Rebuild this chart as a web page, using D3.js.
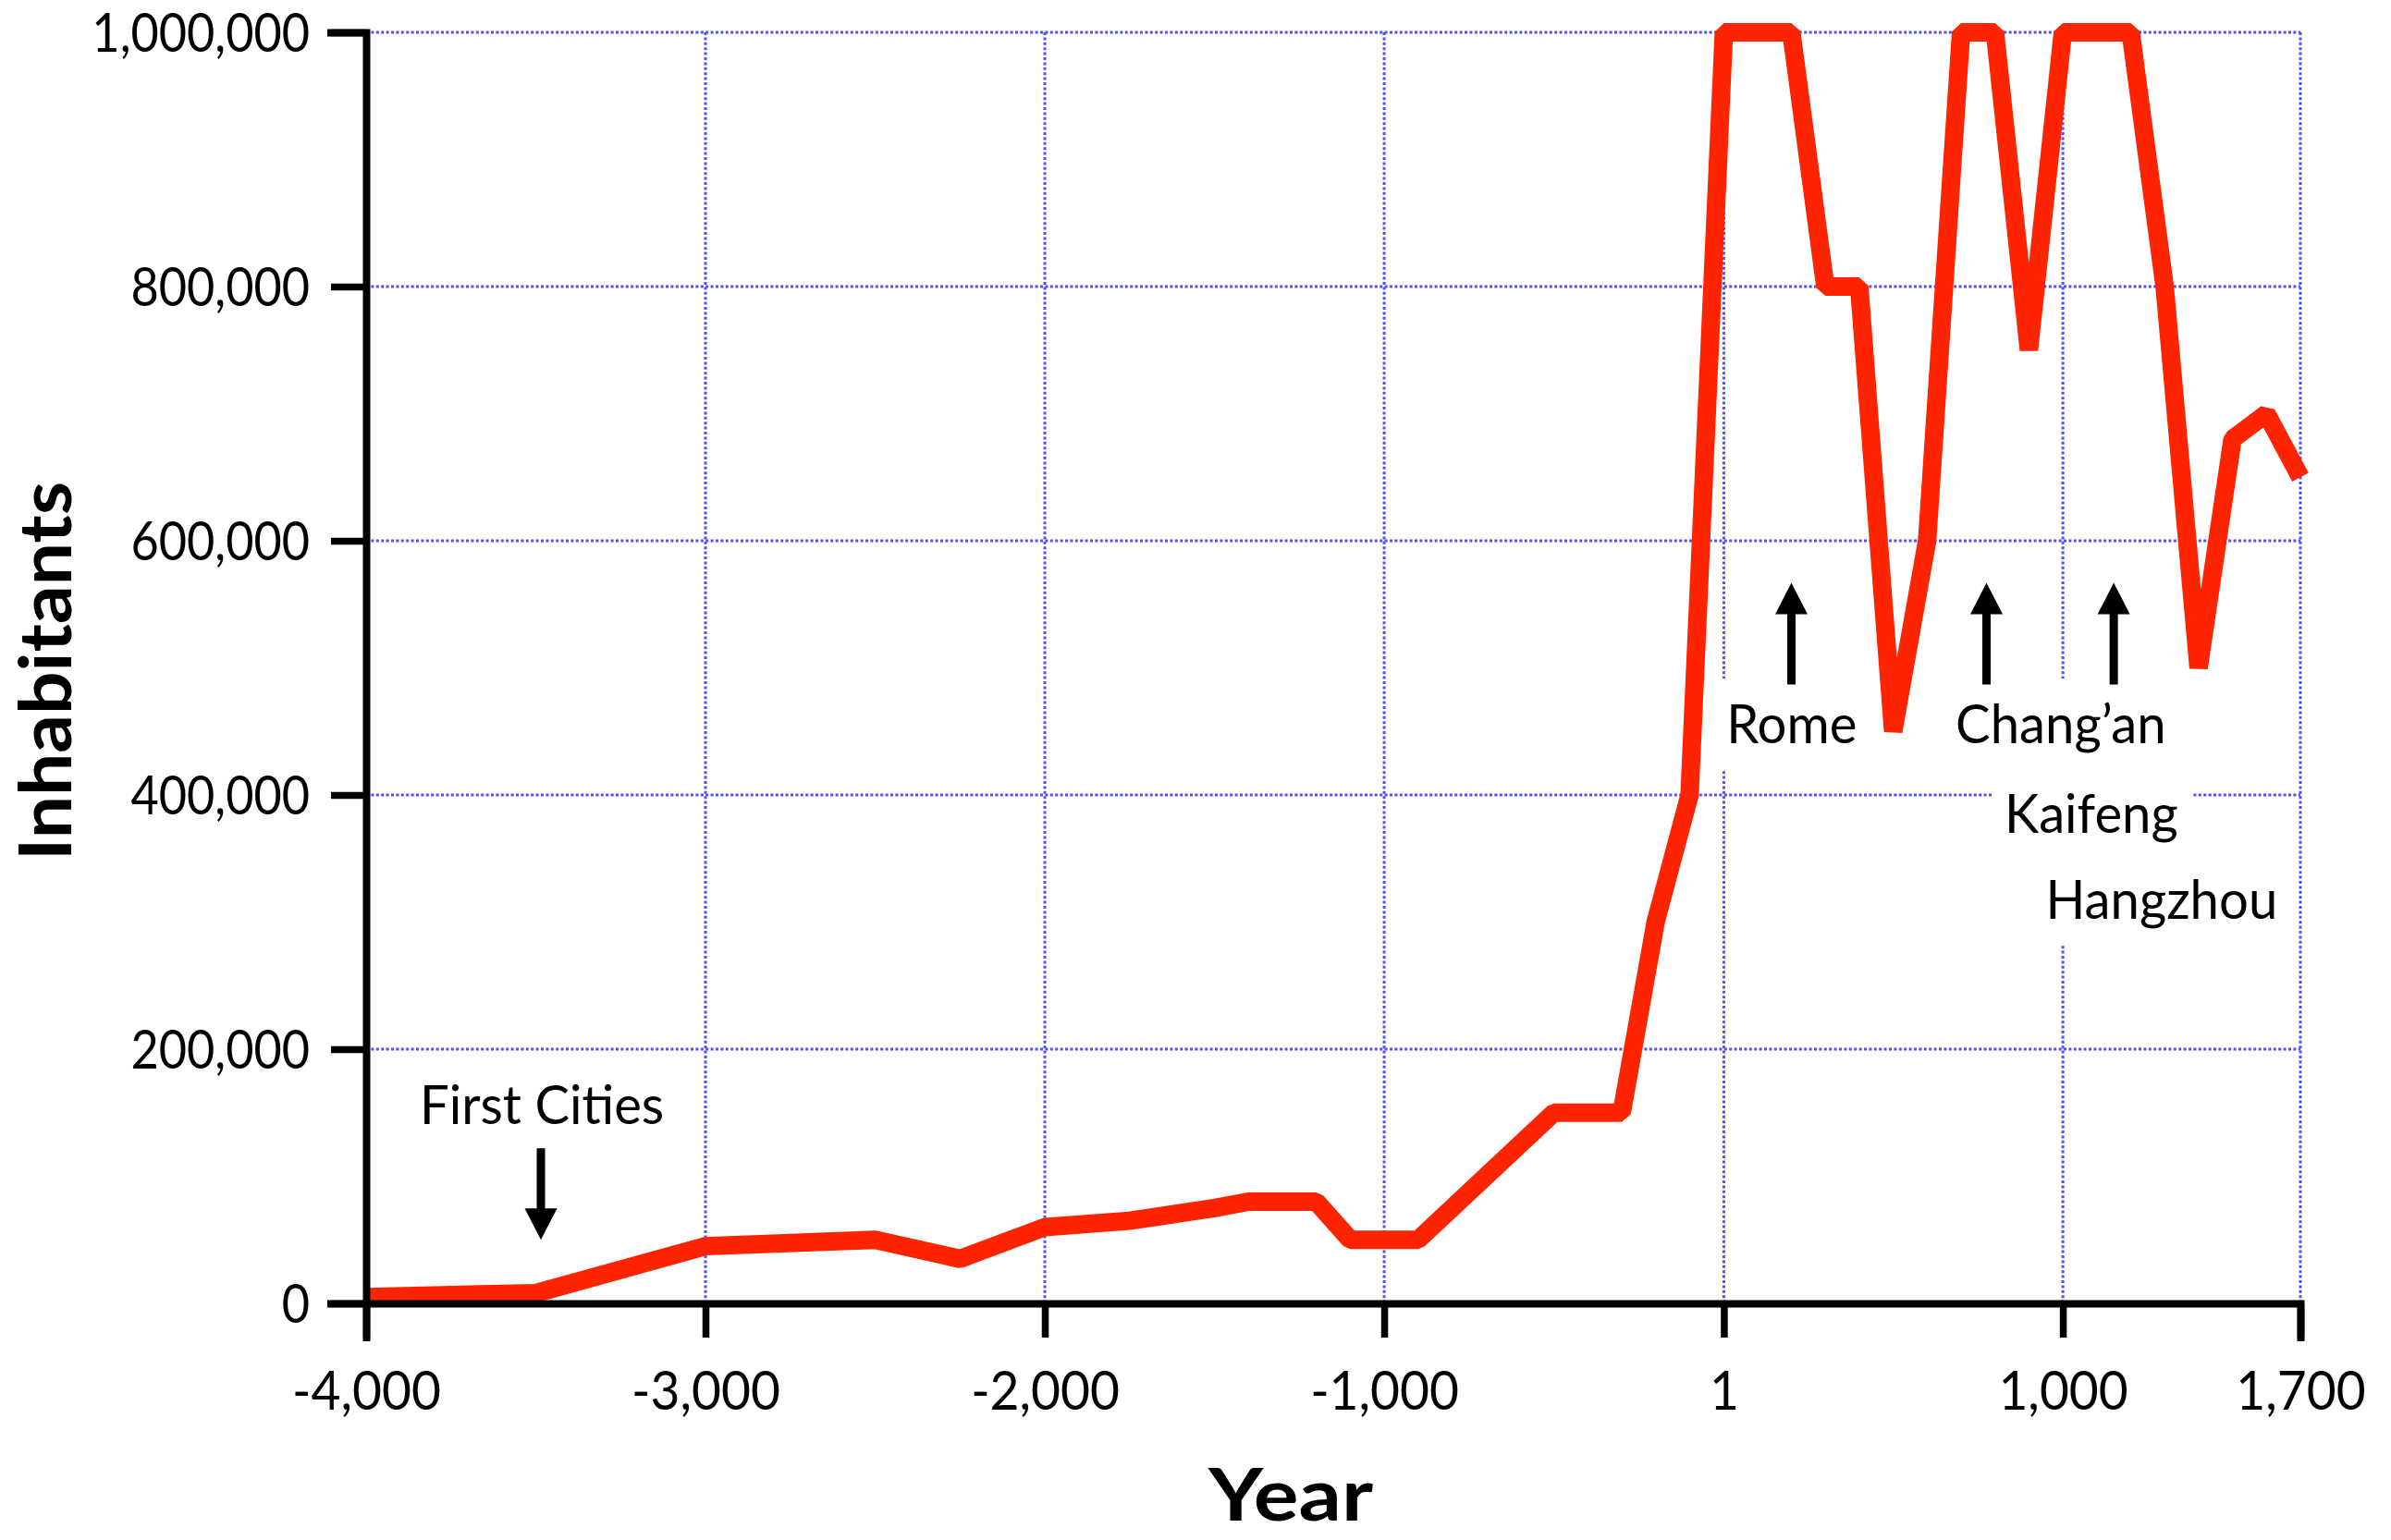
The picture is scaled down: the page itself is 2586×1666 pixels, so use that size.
<!DOCTYPE html>
<html>
<head>
<meta charset="utf-8">
<script src="https://cdn.jsdelivr.net/npm/d3@7"></script>
<style>
  html, body { margin: 0; padding: 0; background: #ffffff; }
  svg { display: block; }
  text { font-family: "Lato", "Open Sans", "DejaVu Sans", sans-serif; }
</style>
</head>
<body>
<svg id="chart" width="2586" height="1666"></svg>
<script>
// ---- data ----
const years = [-4000, -3500, -3000, -2500, -2250, -2000, -1750, -1500, -1400, -1200, -1100, -900,
  -500, -300, -200, -100, 1, 200, 300, 400, 500, 600, 700, 800, 900, 1000, 1200, 1300, 1400, 1500, 1600, 1700];
const inhabitants = [5000, 8000, 45000, 50000, 35000, 60000, 65000, 75000, 80000, 80000, 50000, 50000,
  150000, 150000, 300000, 400000, 1000000, 1000000, 800000, 800000, 450000, 600000, 1000000, 1000000,
  750000, 1000000, 1000000, 800000, 500000, 680000, 700000, 650000];

const xTickValues = [-4000, -3000, -2000, -1000, 1, 1000, 1700];
const xTickLabels = ["-4,000", "-3,000", "-2,000", "-1,000", "1", "1,000", "1,700"];
const yTickValues = [0, 200000, 400000, 600000, 800000, 1000000];
const yTickLabels = ["0", "200,000", "400,000", "600,000", "800,000", "1,000,000"];

const labelTexts  = ["First Cities", "Rome", "Chang\u2019an", "Kaifeng", "Hangzhou"];
const labelYears  = [-3482, 201, 994, 1084, 1291];
const labelValues = [141000, 440700, 440700, 370400, 302300];

const arrowYears = [-3485, 200, 775, 1150];
const arrowFrom  = [122000, 487000, 487000, 487000];
const arrowTo    = [50000, 567000, 567000, 567000];

// ---- layout ----
const svg = d3.select("#chart");
const x = d3.scaleLinear().domain([-4000, 1700]).range([396, 2488]);
const y = d3.scaleLinear().domain([0, 1000000]).range([1410, 35]);

// gridlines
const grid = svg.append("g").attr("class", "grid")
  .attr("stroke", "#4f4fff").attr("stroke-width", 3).attr("stroke-dasharray", "3,2.4");
grid.selectAll("line.h").data(yTickValues.filter(v => v > 0)).join("line")
  .attr("class", "h")
  .attr("x1", x(-4000)).attr("x2", x(1700))
  .attr("y1", d => y(d)).attr("y2", d => y(d));
grid.selectAll("line.v").data(xTickValues.filter(v => v > -4000)).join("line")
  .attr("class", "v")
  .attr("x1", d => x(d)).attr("x2", d => x(d))
  .attr("y1", y(1000000)).attr("y2", y(0));

// annotation labels with white boxes
const labG = svg.append("g");
const labels = labG.selectAll("g").data(labelTexts.map((t, i) => ({t, yr: labelYears[i], v: labelValues[i]})))
  .join("g");
labels.append("rect").attr("fill", "#ffffff");
labels.append("text")
  .attr("x", d => x(d.yr)).attr("y", d => y(d.v))
  .attr("text-anchor", "middle")
  .attr("font-size", 58)
  .attr("fill", "#000")
  .text(d => d.t);
labels.each(function(d) {
  const g = d3.select(this);
  const t = g.select("text");
  const w0 = t.node().getComputedTextLength();
  t.attr("textLength", w0 * 0.97).attr("lengthAdjust", "spacingAndGlyphs");
  const bb = t.node().getBBox();
  const base = y(d.v);
  g.select("rect")
    .attr("x", bb.x - 14).attr("width", bb.width + 28)
    .attr("y", base - 70).attr("height", 98);
});

// line
const line = d3.line().x((d, i) => x(years[i])).y(d => y(d));
svg.append("path")
  .datum(inhabitants)
  .attr("d", line)
  .attr("fill", "none")
  .attr("stroke", "#ff2400")
  .attr("stroke-width", 20)
  .attr("stroke-linejoin", "bevel")
  .attr("stroke-linecap", "butt");

// arrows
const arrowG = svg.append("g").attr("fill", "#000");
arrowYears.forEach((yr, i) => {
  const cx = x(yr);
  const y0 = y(arrowFrom[i]);
  const y1 = y(arrowTo[i]);
  const dir = y1 > y0 ? 1 : -1;
  const headLen = 34, headHalf = 17.5, shaftHalf = 4.5;
  const yb = y1 - dir * headLen;
  arrowG.append("path").attr("d",
    `M${cx - shaftHalf},${y0} L${cx + shaftHalf},${y0} L${cx + shaftHalf},${yb} L${cx + headHalf},${yb} ` +
    `L${cx},${y1} L${cx - headHalf},${yb} L${cx - shaftHalf},${yb} Z`);
});

// axes
const yAxis = d3.axisLeft(y).tickValues(yTickValues)
  .tickFormat((d, i) => yTickLabels[i]).tickSize(38).tickPadding(23);
const yg = svg.append("g").attr("transform", `translate(${x(-4000)},0)`).call(yAxis);
const xAxis = d3.axisBottom(x).tickValues(xTickValues)
  .tickFormat((d, i) => xTickLabels[i]).tickSize(37);
const xg = svg.append("g").attr("transform", `translate(0,${y(0)})`).call(xAxis);

[yg, xg].forEach(g => {
  g.select(".domain").attr("stroke", "#000").attr("stroke-width", 8).attr("stroke-linejoin", "miter")
    .attr("stroke-linecap", "square");
  g.selectAll(".tick line").attr("stroke", "#000").attr("stroke-width", 7.5);
  g.selectAll(".tick text").attr("fill", "#000").attr("font-size", 58)
    .attr("font-family", "Lato, 'Open Sans', sans-serif");
});
yg.selectAll(".tick text").attr("dy", "0.36em").each(function() {
  const w0 = this.getComputedTextLength();
  d3.select(this).attr("textLength", w0 * 0.9).attr("lengthAdjust", "spacingAndGlyphs");
});
xg.selectAll(".tick text").attr("y", 115).attr("dy", 0).each(function() {
  const w0 = this.getComputedTextLength();
  d3.select(this).attr("textLength", w0 * 0.95).attr("lengthAdjust", "spacingAndGlyphs");
});

// axis titles
svg.append("text")
  .attr("x", 1396).attr("y", 1645)
  .attr("text-anchor", "middle")
  .attr("font-size", 78).attr("font-weight", "bold")
  .attr("textLength", 178).attr("lengthAdjust", "spacingAndGlyphs")
  .text("Year");
svg.append("text")
  .attr("transform", "translate(77,726) rotate(-90)")
  .attr("text-anchor", "middle")
  .attr("font-size", 78).attr("font-weight", "bold")
  .attr("textLength", 410).attr("lengthAdjust", "spacingAndGlyphs")
  .text("Inhabitants");
</script>
</body>
</html>
